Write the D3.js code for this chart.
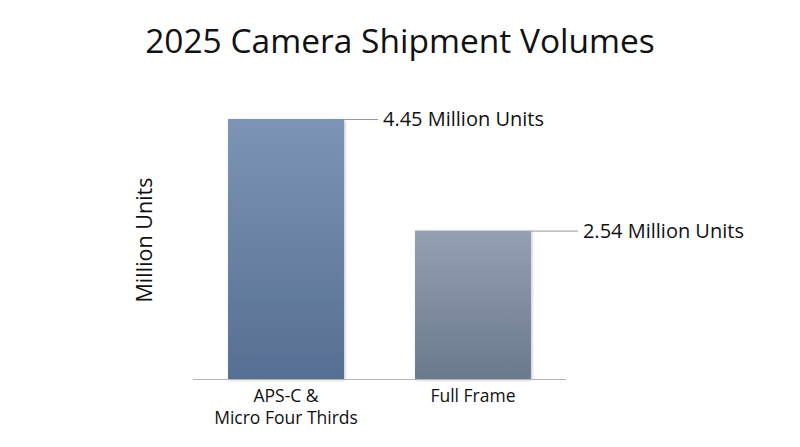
<!DOCTYPE html>
<html>
<head>
<meta charset="utf-8">
<script src="https://cdn.jsdelivr.net/npm/d3@7"></script>
<style>
  body { margin: 0; background: #fff; }
  svg text { font-family: "Open Sans", "Noto Sans", sans-serif; fill: #111; }
</style>
</head>
<body>
<div id="chart"></div>
<script>
const categories = [["APS-C &", "Micro Four Thirds"], ["Full Frame"]];
const values = [4.45, 2.54];
const valueLabels = ["4.45 Million Units", "2.54 Million Units"];
const gradTop = ["#7c94b5", "#94a0b4"];
const gradBottom = ["#566f92", "#6b798d"];

const width = 800, height = 447;
const baseY = 379;

const svg = d3.select('#chart').append('svg')
    .attr('width', width)
    .attr('height', height);

const defs = svg.append('defs');
values.forEach((v, i) => {
  const g = defs.append('linearGradient')
      .attr('id', 'grad' + i)
      .attr('x1', 0).attr('y1', 0).attr('x2', 0).attr('y2', 1);
  g.append('stop').attr('offset', '0%').attr('stop-color', gradTop[i]);
  g.append('stop').attr('offset', '100%').attr('stop-color', gradBottom[i]);
});
const shadow = defs.append('filter').attr('id', 'shadow')
    .attr('x', '-10%').attr('y', '-10%').attr('width', '120%').attr('height', '120%');
shadow.append('feDropShadow')
    .attr('dx', 1).attr('dy', 1).attr('stdDeviation', 1.5)
    .attr('flood-color', '#000').attr('flood-opacity', 0.25);

const x = d3.scaleBand()
    .domain(d3.range(values.length))
    .range([193, 566])
    .paddingInner(0.38)
    .paddingOuter(0.1875);

const y = d3.scaleLinear()
    .domain([0, 4.45])
    .range([baseY, 119]);

svg.append('text')
    .attr('x', 400)
    .attr('y', 53)
    .attr('text-anchor', 'middle')
    .attr('font-size', 33.5)
    .attr('font-weight', 500)
    .text('2025 Camera Shipment Volumes');

svg.append('text')
    .attr('transform', `translate(152,240) rotate(-90)`)
    .attr('text-anchor', 'middle')
    .attr('font-size', 21.5)
    .text('Million Units');

svg.selectAll('rect.bar')
  .data(values)
  .enter().append('rect')
    .attr('class', 'bar')
    .attr('x', (d, i) => x(i))
    .attr('y', d => y(d))
    .attr('width', x.bandwidth())
    .attr('height', d => baseY - y(d))
    .attr('fill', (d, i) => `url(#grad${i})`)
    .attr('filter', 'url(#shadow)');

svg.append('line')
    .attr('x1', 193).attr('x2', 566)
    .attr('y1', baseY + 0.5).attr('y2', baseY + 0.5)
    .attr('stroke', '#b5b5b5')
    .attr('stroke-width', 1);

const leaderLen = [34, 47];
svg.selectAll('line.leader')
  .data(values)
  .enter().append('line')
    .attr('class', 'leader')
    .attr('x1', (d, i) => x(i) + x.bandwidth())
    .attr('x2', (d, i) => x(i) + x.bandwidth() + leaderLen[i])
    .attr('y1', d => y(d) + 0.5)
    .attr('y2', d => y(d) + 0.5)
    .attr('stroke', '#999')
    .attr('stroke-width', 1);

svg.selectAll('text.value')
  .data(values)
  .enter().append('text')
    .attr('class', 'value')
    .attr('x', (d, i) => x(i) + x.bandwidth() + leaderLen[i] + 5)
    .attr('y', d => y(d) + 7)
    .attr('font-size', 20)
    .text((d, i) => valueLabels[i]);

const cat = svg.selectAll('text.cat')
  .data(categories)
  .enter().append('text')
    .attr('class', 'cat')
    .attr('x', (d, i) => x(i) + x.bandwidth() / 2)
    .attr('y', 402)
    .attr('text-anchor', 'middle')
    .attr('font-size', 17.5);
cat.selectAll('tspan')
  .data(d => d)
  .enter().append('tspan')
    .attr('x', function() { return this.parentNode.getAttribute('x'); })
    .attr('dy', (d, j) => j === 0 ? 0 : 22)
    .text(d => d);
</script>
</body>
</html>
